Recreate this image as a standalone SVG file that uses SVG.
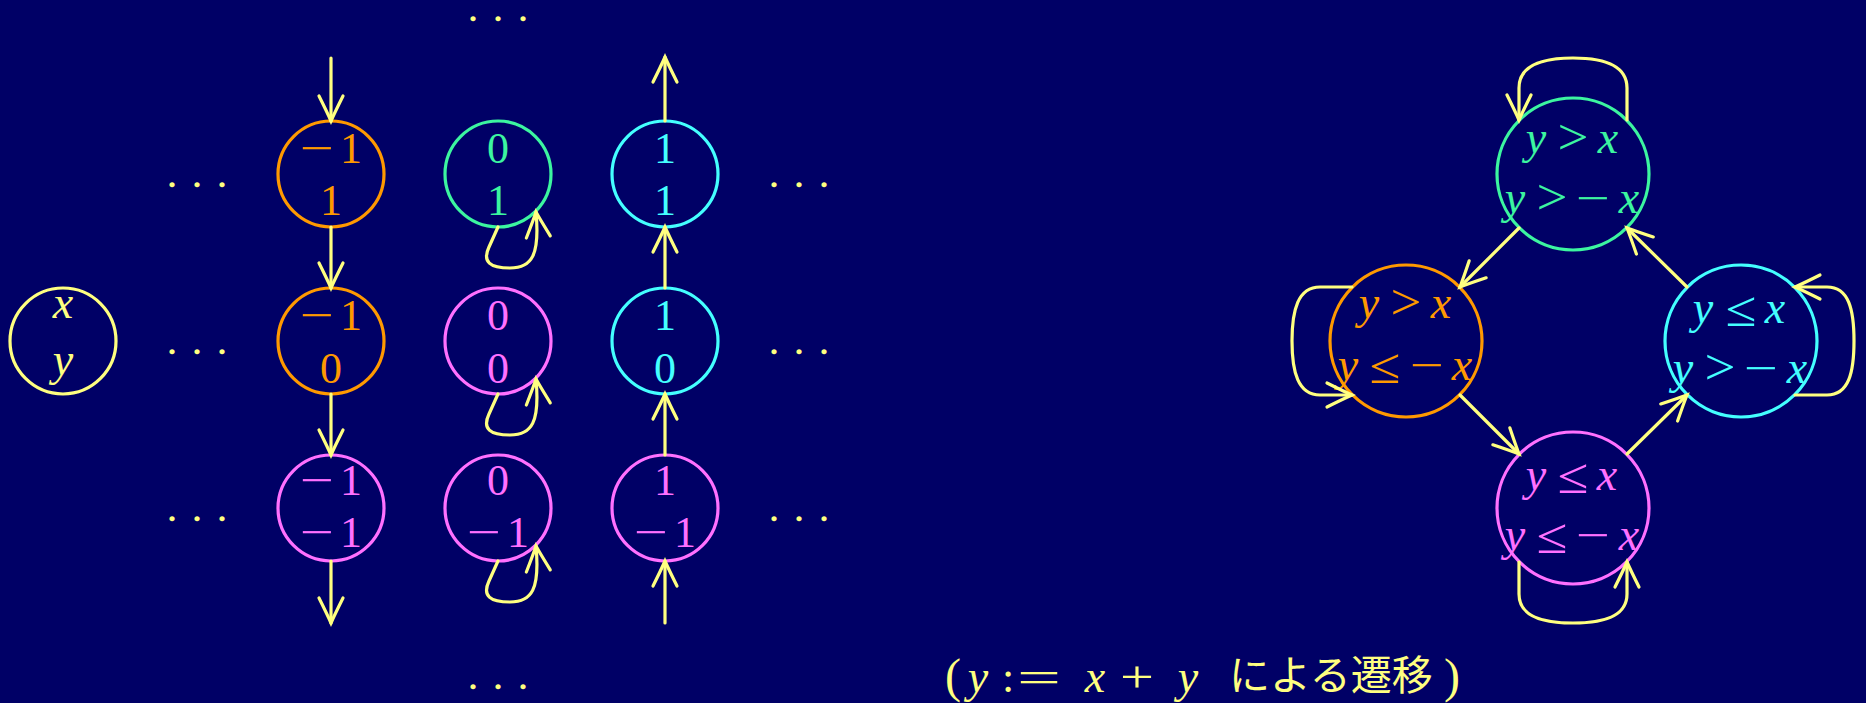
<svg xmlns="http://www.w3.org/2000/svg" width="1866" height="703" viewBox="0 0 1866 703">
<defs>
<style>
.bg{fill:#000066}
.n{fill:none;stroke-width:3.2}
.or{stroke:#ff9900}.gr{stroke:#3cf5a0}.cy{stroke:#44ffff}.pk{stroke:#ff70ff}.ye{stroke:#ffff80}
.tor{fill:#ff9900}.tgr{fill:#3cf5a0}.tcy{fill:#44ffff}.tpk{fill:#ff70ff}.tye{fill:#ffff80}
.num{font-family:"Liberation Serif","Times New Roman",serif;font-size:44px;text-anchor:middle}
.var{font-family:"Liberation Serif","Times New Roman",serif;font-size:46px;font-style:italic;text-anchor:middle}
.op{font-family:"Liberation Serif","Times New Roman",serif;font-size:44px;text-anchor:middle}
.par{font-family:"Liberation Serif","Times New Roman",serif;font-size:48px;text-anchor:middle}
.rel{font-family:"Liberation Serif","Times New Roman",serif;font-size:50px;text-anchor:middle}
.dots{font-family:"Liberation Serif",serif;font-size:22px;text-anchor:middle;fill:#ffff80;stroke:#ffff80;stroke-width:2.6}
.jp{font-family:"Noto Sans CJK JP","Noto Sans",sans-serif;font-size:41px;fill:#ffff80}
.e{fill:none;stroke:#ffff80;stroke-width:3.2;stroke-linecap:round;marker-end:url(#ah)}
</style>
<marker id="ah" markerUnits="userSpaceOnUse" markerWidth="60" markerHeight="60" viewBox="-30 -30 60 60" refX="0" refY="0" orient="auto" overflow="visible">
<path d="M -25 -12 Q -9 -4 0 0 Q -9 4 -25 12" fill="none" stroke="#ffff80" stroke-width="3.2" stroke-linecap="round"/>
</marker>
</defs>
<rect class="bg" x="0" y="0" width="1866" height="703"/>

<g id="dots">
<text class="dots" x="473 498 523" y="20">...</text>
<text class="dots" x="473 498 523" y="688">...</text>
<text class="dots" x="172 197 222" y="186">...</text>
<text class="dots" x="172 197 222" y="353">...</text>
<text class="dots" x="172 197 222" y="520">...</text>
<text class="dots" x="774 799 824" y="186">...</text>
<text class="dots" x="774 799 824" y="353">...</text>
<text class="dots" x="774 799 824" y="520">...</text>
</g>

<g id="node-xy">
<circle class="n ye" cx="63" cy="341" r="53"/>
<text class="var tye" x="63" y="318">x</text>
<text class="var tye" x="63" y="375">y</text>
</g>

<g id="node-m1-1">
<circle class="n or" cx="331" cy="174" r="53"/>
<text class="num tor" x="317" y="163" textLength="34" lengthAdjust="spacingAndGlyphs">−</text><text class="num tor" x="351" y="163">1</text>
<text class="num tor" x="331" y="215">1</text>
</g>
<g id="node-0-1">
<circle class="n gr" cx="498" cy="174" r="53"/>
<text class="num tgr" x="498" y="163">0</text>
<text class="num tgr" x="498" y="215">1</text>
</g>
<g id="node-1-1">
<circle class="n cy" cx="665" cy="174" r="53"/>
<text class="num tcy" x="665" y="163">1</text>
<text class="num tcy" x="665" y="215">1</text>
</g>

<g id="node-m1-0">
<circle class="n or" cx="331" cy="341" r="53"/>
<text class="num tor" x="317" y="330" textLength="34" lengthAdjust="spacingAndGlyphs">−</text><text class="num tor" x="351" y="330">1</text>
<text class="num tor" x="331" y="383">0</text>
</g>
<g id="node-0-0">
<circle class="n pk" cx="498" cy="341" r="53"/>
<text class="num tpk" x="498" y="330">0</text>
<text class="num tpk" x="498" y="383">0</text>
</g>
<g id="node-1-0">
<circle class="n cy" cx="665" cy="341" r="53"/>
<text class="num tcy" x="665" y="330">1</text>
<text class="num tcy" x="665" y="383">0</text>
</g>

<g id="node-m1-m1">
<circle class="n pk" cx="331" cy="508" r="53"/>
<text class="num tpk" x="317" y="495" textLength="34" lengthAdjust="spacingAndGlyphs">−</text><text class="num tpk" x="351" y="495">1</text>
<text class="num tpk" x="317" y="547" textLength="34" lengthAdjust="spacingAndGlyphs">−</text><text class="num tpk" x="351" y="547">1</text>
</g>
<g id="node-0-m1">
<circle class="n pk" cx="498" cy="508" r="53"/>
<text class="num tpk" x="498" y="495">0</text>
<text class="num tpk" x="484" y="547" textLength="34" lengthAdjust="spacingAndGlyphs">−</text><text class="num tpk" x="518" y="547">1</text>
</g>
<g id="node-1-m1">
<circle class="n pk" cx="665" cy="508" r="53"/>
<text class="num tpk" x="665" y="495">1</text>
<text class="num tpk" x="651" y="547" textLength="34" lengthAdjust="spacingAndGlyphs">−</text><text class="num tpk" x="685" y="547">1</text>
</g>

<g id="state-green">
<circle class="n gr" cx="1573" cy="174" r="76"/>
<text class="var tgr" x="1536" y="153">y</text><text class="rel tgr" x="1573" y="154" textLength="31" lengthAdjust="spacingAndGlyphs">&gt;</text><text class="var tgr" x="1608" y="153">x</text>
<text class="var tgr" x="1515" y="213">y</text><text class="rel tgr" x="1552" y="214" textLength="31" lengthAdjust="spacingAndGlyphs">&gt;</text><text class="op tgr" x="1593" y="213" textLength="34" lengthAdjust="spacingAndGlyphs">−</text><text class="var tgr" x="1629" y="213">x</text>
</g>
<g id="state-orange">
<circle class="n or" cx="1406" cy="341" r="76"/>
<text class="var tor" x="1369" y="318">y</text><text class="rel tor" x="1406" y="319" textLength="31" lengthAdjust="spacingAndGlyphs">&gt;</text><text class="var tor" x="1441" y="318">x</text>
<text class="var tor" x="1348" y="380">y</text><text class="rel tor" x="1385" y="383" textLength="31" lengthAdjust="spacingAndGlyphs">≤</text><text class="op tor" x="1427" y="380" textLength="34" lengthAdjust="spacingAndGlyphs">−</text><text class="var tor" x="1462" y="380">x</text>
</g>
<g id="state-cyan">
<circle class="n cy" cx="1741" cy="341" r="76"/>
<text class="var tcy" x="1703" y="323">y</text><text class="rel tcy" x="1741" y="326" textLength="31" lengthAdjust="spacingAndGlyphs">≤</text><text class="var tcy" x="1775" y="323">x</text>
<text class="var tcy" x="1683" y="383">y</text><text class="rel tcy" x="1720" y="384" textLength="31" lengthAdjust="spacingAndGlyphs">&gt;</text><text class="op tcy" x="1761" y="383" textLength="34" lengthAdjust="spacingAndGlyphs">−</text><text class="var tcy" x="1797" y="383">x</text>
</g>
<g id="state-pink">
<circle class="n pk" cx="1573" cy="508" r="76"/>
<text class="var tpk" x="1536" y="490">y</text><text class="rel tpk" x="1573" y="493" textLength="31" lengthAdjust="spacingAndGlyphs">≤</text><text class="var tpk" x="1607" y="490">x</text>
<text class="var tpk" x="1515" y="550">y</text><text class="rel tpk" x="1552" y="553" textLength="31" lengthAdjust="spacingAndGlyphs">≤</text><text class="op tpk" x="1593" y="550" textLength="34" lengthAdjust="spacingAndGlyphs">−</text><text class="var tpk" x="1629" y="550">x</text>
</g>

<g id="connectors">
<path class="e" d="M 331 58 L 331 121"/>
<path class="e" d="M 331 227 L 331 288"/>
<path class="e" d="M 331 394 L 331 455"/>
<path class="e" d="M 331 561 L 331 623"/>
<path class="e" d="M 665 623 L 665 561"/>
<path class="e" d="M 665 455 L 665 394"/>
<path class="e" d="M 665 288 L 665 227"/>
<path class="e" d="M 665 121 L 665 57"/>
<path class="e" d="M 498 227 L 489 247 C 482 262 490 268 510 268 C 532 268 540 255 536 212"/>
<path class="e" d="M 498 394 L 489 414 C 482 429 490 435 510 435 C 532 435 540 422 536 379"/>
<path class="e" d="M 498 561 L 489 581 C 482 596 490 602 510 602 C 532 602 540 589 536 546"/>
<path class="e" d="M 1519 228 L 1460 287"/>
<path class="e" d="M 1687 287 L 1627 228"/>
<path class="e" d="M 1460 395 L 1519 454"/>
<path class="e" d="M 1627 454 L 1687 395"/>
<path class="e" d="M 1627 120 L 1627 88 C 1627 65 1603 58 1573 58 C 1543 58 1519 65 1519 88 L 1519 120"/>
<path class="e" d="M 1352 287 L 1320 287 C 1298 287 1292 310 1292 341 C 1292 372 1298 395 1320 395 L 1352 395"/>
<path class="e" d="M 1795 395 L 1827 395 C 1849 395 1854 372 1854 341 C 1854 310 1849 287 1827 287 L 1795 287"/>
<path class="e" d="M 1519 562 L 1519 594 C 1519 617 1543 623 1573 623 C 1603 623 1627 617 1627 594 L 1627 562"/>
</g>

<g id="caption">
<text class="par tye" x="953" y="692">(</text>
<text class="var tye" x="978" y="692">y</text>
<text class="op tye" x="1008" y="692">:</text>
<text class="op tye" x="1039" y="692" textLength="44" lengthAdjust="spacingAndGlyphs">=</text>
<text class="var tye" x="1095" y="692">x</text>
<text class="op tye" x="1137" y="692" textLength="34" lengthAdjust="spacingAndGlyphs">+</text>
<text class="var tye" x="1188" y="692">y</text>
<text class="jp" x="1229" y="690">による遷移</text>
<text class="par tye" x="1452" y="692">)</text>
</g>
</svg>
